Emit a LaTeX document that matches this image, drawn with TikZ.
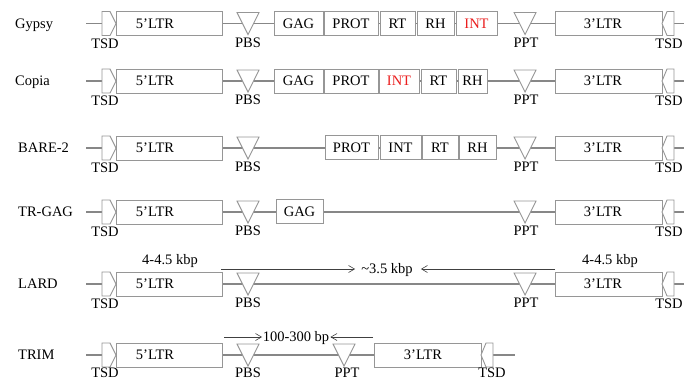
\documentclass[tikz,border=0pt]{standalone}
\usepackage{fontspec}
\setmainfont{Liberation Serif}
\usetikzlibrary{arrows.meta}
\definecolor{bone}{RGB}{135,135,135}
\definecolor{edge}{RGB}{150,150,150}
\definecolor{intred}{RGB}{235,30,30}
\newcommand{\genefont}{\fontsize{14.5}{17}\selectfont}
\tikzset{
  backbone/.style={draw=bone, line width=1.3pt},
  part/.style={draw=edge, line width=0.9pt, fill=white},
  gene/.style={part, minimum height=24pt, inner sep=0pt, font=\genefont},
  ltrbox/.style={part, minimum width=106pt, minimum height=24pt, inner sep=0pt},
  txt/.style={inner sep=0pt, text height=11pt, text depth=2pt, font=\genefont},
  span/.style={draw=black!75, line width=0.6pt, -{Straight Barb[length=6pt,width=7pt]}},
}
% A complete element: TSD, 5' LTR, PBS, PPT, 3' LTR, TSD on one backbone.
% #1 prefix, #2 row y, #3 x of the row name, #4 row name
\newcommand{\fullrow}[4]{%
  \node[txt, anchor=west] (#1name) at (#3,#2) {#4};
  \coordinate (#1s) at (86,#2);
  \coordinate (#1e) at (690,#2);
  \draw[backbone] (#1s) -- (#1e);
  \draw[part] (102,#2-12) -- (110,#2-12) -- (116,#2) -- (110,#2+12) -- (102,#2+12) -- cycle;
  \node[ltrbox] (#1ltrA) at (169,#2) {};
  \node[txt] (#1ltrAt) at (155,#2) {5’LTR};
  \draw[part] (237,#2-11) -- (259,#2-11) -- (248,#2+11) -- cycle;
  \draw[part] (514,#2-11) -- (536,#2-11) -- (525,#2+11) -- cycle;
  \node[ltrbox, minimum width=107pt] (#1ltrB) at (608.5,#2) {};
  \node[txt] (#1ltrBt) at (603,#2) {3’LTR};
  \draw[part] (662,#2) -- (667,#2-12) -- (674,#2-12) -- (674,#2+12) -- (667,#2+12) -- cycle;
  \node[txt] (#1tsdA) at (105,#2+20) {TSD};
  \node[txt] (#1pbs) at (248,#2+19) {PBS};
  \node[txt] (#1ppt) at (526,#2+19) {PPT};
  \node[txt] (#1tsdB) at (669,#2+20) {TSD};
}
\begin{document}
\begin{tikzpicture}[x=1pt,y=-1pt]
\useasboundingbox (0,0) rectangle (684,381);

% Gypsy
\fullrow{gy}{23.5}{15}{Gypsy}
\node[gene, minimum width=49pt] (gygag) at (298.5,23.5) {GAG};
\node[gene, minimum width=54pt] (gyprot) at (351,23.5) {PROT};
\node[gene, minimum width=35pt] (gyrt) at (397.5,23.5) {RT};
\node[gene, minimum width=37pt] (gyrh) at (435.5,23.5) {RH};
\node[gene, minimum width=41pt, text=intred] (gyint) at (476.5,23.5) {INT};

% Copia
\fullrow{co}{81}{15}{Copia}
\node[gene, minimum width=49pt] (cogag) at (298.5,81) {GAG};
\node[gene, minimum width=54pt] (coprot) at (351,81) {PROT};
\node[gene, minimum width=40pt, text=intred] (coint) at (399,81) {INT};
\node[gene, minimum width=35pt] (cort) at (438.5,81) {RT};
\node[gene, minimum width=29pt] (corh) at (472.5,81) {RH};

% BARE-2
\fullrow{ba}{148}{18}{BARE-2}
\node[gene, minimum width=53pt] (baprot) at (351.5,147.5) {PROT};
\node[gene, minimum width=41pt] (baint) at (400.5,147.5) {INT};
\node[gene, minimum width=36pt] (bart) at (440,147.5) {RT};
\node[gene, minimum width=37pt] (barh) at (477.5,147.5) {RH};

% TR-GAG
\fullrow{tr}{212}{18}{TR-GAG}
\node[gene, minimum width=47pt] (trgag) at (299.5,211.5) {GAG};

% LARD
\fullrow{la}{284}{18}{LARD}
\node[txt] (lakbA) at (170,260) {4-4.5 kbp};
\node[txt] (lakbB) at (610,260) {4-4.5 kbp};
\node[txt] (lamid) at (387,269) {\textasciitilde3.5 kbp};
\coordinate (laarA) at (221,269);
\coordinate (laarB) at (555,269);
\draw[span] (laarA) -- ([xshift=-6pt]lamid.west);
\draw[span] (laarB) -- ([xshift=8pt]lamid.east);

% TRIM
\node[txt, anchor=west] (trimname) at (18,355) {TRIM};
\coordinate (trims) at (86,355);
\coordinate (trime) at (515,355);
\draw[backbone] (trims) -- (trime);
\draw[part] (102,343) -- (110,343) -- (116,355) -- (110,367) -- (102,367) -- cycle;
\node[ltrbox] (trimltrA) at (169,355) {};
\node[txt] (trimltrAt) at (155,355) {5’LTR};
\draw[part] (237,344) -- (259,344) -- (248,366) -- cycle;
\draw[part] (333,344) -- (355,344) -- (344,366) -- cycle;
\node[ltrbox, minimum width=107pt] (trimltrB) at (427.5,355) {};
\node[txt] (trimltrBt) at (423,355) {3’LTR};
\draw[part] (481,355) -- (486,343) -- (493,343) -- (493,367) -- (486,367) -- cycle;
\node[txt] (trimtsdA) at (105,373) {TSD};
\node[txt] (trimpbs) at (248,372.5) {PBS};
\node[txt] (trimppt) at (347,372.5) {PPT};
\node[txt] (trimtsdB) at (492,373) {TSD};
\node[txt] (trimmid) at (296,337) {100-300 bp};
\coordinate (trimarA) at (224,337);
\coordinate (trimarB) at (373,337);
\draw[span] (trimarA) -- ([xshift=-0.5pt]trimmid.west);
\draw[span] (trimarB) -- ([xshift=1pt]trimmid.east);
\end{tikzpicture}
\end{document}
